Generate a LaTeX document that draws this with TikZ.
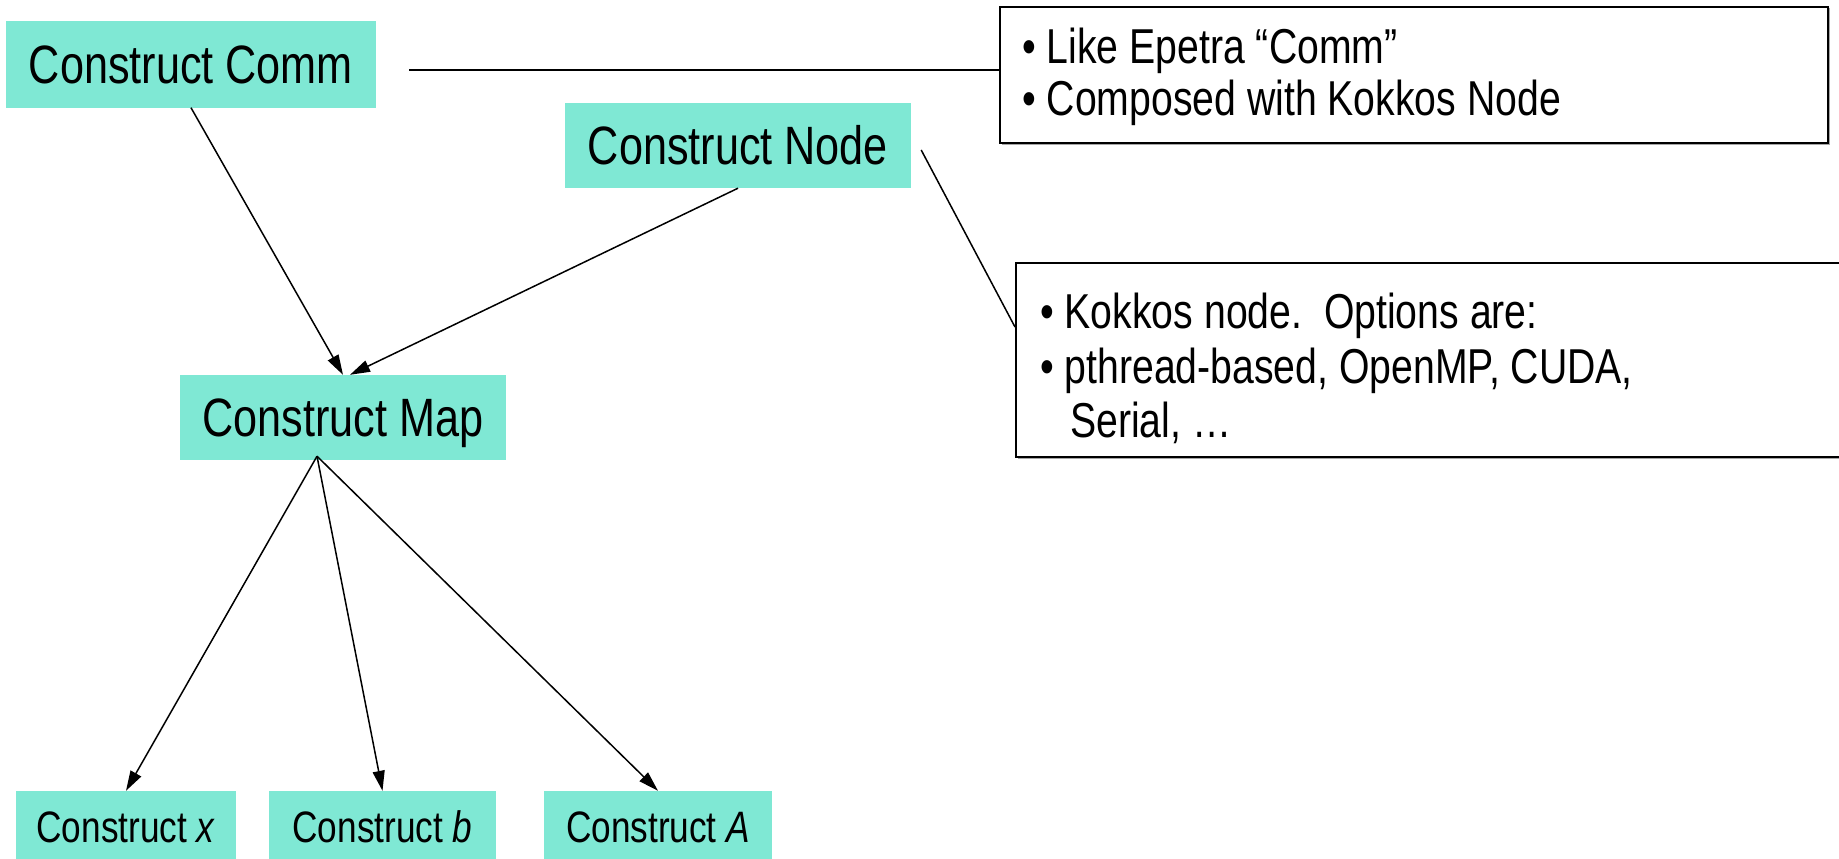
\documentclass[tikz,border=0pt]{standalone}
\usepackage{fontspec}
\setmainfont{Liberation Sans}[FakeStretch=0.8]
\usetikzlibrary{arrows.meta,shadows}
\definecolor{boxfill}{RGB}{127,232,212}
\begin{document}
\begin{tikzpicture}[x=1bp,y=-1bp,
  proc/.style={fill=boxfill, draw=none, inner sep=0pt, text depth=0pt},
  big/.style={proc, text height=38.7bp, font=\fontsize{54bp}{64bp}\selectfont},
  small/.style={proc, text height=31.5bp, font=\fontsize{44bp}{52bp}\selectfont},
  note/.style={draw=black, line width=2bp, fill=white, inner sep=0pt,
    drop shadow={shadow xshift=1.5bp, shadow yshift=-1.5bp, fill=gray!70, opacity=1}},
  notetext/.style={anchor=base west, inner sep=0pt, font=\fontsize{49bp}{58bp}\selectfont},
  arr/.style={line width=1.5bp, -{Triangle[length=20bp,width=12bp]}},
  link/.style={line width=1.5bp}]
\useasboundingbox (0,0) rectangle (1839,859);
\clip (0,0) rectangle (1839,859);
% process boxes
\node[big, minimum width=370bp, minimum height=86bp] (comm) at (191,64.5) {Construct Comm};
\node[big, minimum width=346bp, minimum height=85bp] (knode) at (738,145.5) {Construct Node};
\node[big, minimum width=326bp, minimum height=85bp] (map) at (343,417.5) {Construct Map};
\node[small, minimum width=220bp, minimum height=71bp] (cx) at (126,826.5) {Construct \textit{x}};
\node[small, minimum width=227bp, minimum height=71bp] (cb) at (382.5,826.5) {Construct \textit{b}};
\node[small, minimum width=228bp, minimum height=71bp] (cA) at (658,826.5) {Construct \textit{A}};
% notes
\node[note, minimum width=828bp, minimum height=136bp] (box1) at (1414,75) {};
\node[note, minimum width=829bp, minimum height=194bp] (box2) at (1430.5,360) {};
\node[notetext] (n1a) at (1022,63) {• Like Epetra “Comm”};
\node[notetext] (n1b) at (1022,115) {• Composed with Kokkos Node};
\node[notetext] (n2a) at (1040,328) {• Kokkos node.\ \ Options are:};
\node[notetext] (n2b) at (1040,383) {• pthread-based, OpenMP, CUDA,};
\node[notetext] (n2c) at (1070,437) {Serial, …};
% connectors
\draw[arr] (comm.south) -- (map.north);
\draw[arr] (knode.south) -- ([xshift=7bp]map.north);
\coordinate (mapout) at ([shift={(-26bp,4bp)}]map.south);
\draw[arr] (mapout) -- (cx.north);
\draw[arr] (mapout) -- (cb.north);
\draw[arr] (mapout) -- (cA.north);
\coordinate (cl) at ([shift={(33bp,-5.5bp)}]comm.east);
\draw[link] (cl) -- (cl -| box1.west);
\draw[link] ([shift={(10bp,-4.5bp)}]knode.east) -- ([yshift=33bp]box2.west);
\end{tikzpicture}
\end{document}
